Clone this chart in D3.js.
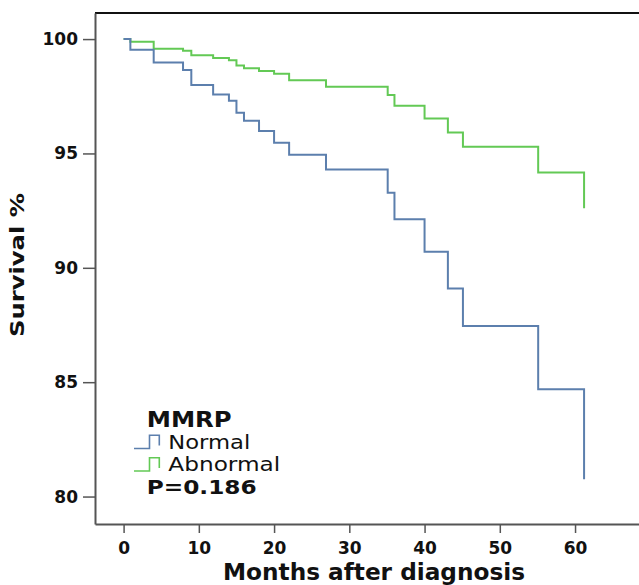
<!DOCTYPE html>
<html>
  <head>
    <meta charset="UTF-8" />
    <style>
      body {
        margin: 0;
        background: #fff;
      }
      svg {
        display: block;
        font-family: "DejaVu Sans", Verdana, sans-serif;
      }
    </style>
  </head>
  <body>
    <svg></svg>
    <script src="https://d3js.org/d3.v7.min.js"></script>

    <script>
      // Kaplan-Meier steps (months, survival %)
      const normalMonths = [0, 0.9, 4, 7.9, 9, 11.9, 14, 15, 16, 18, 20, 22, 26.9, 35.1, 36, 40, 43.1, 45.1, 55.1, 61.2];
      const normalSurvival = [100, 99.53, 98.98, 98.65, 97.99, 97.58, 97.3, 96.78, 96.43, 95.98, 95.47, 94.94, 94.3, 93.28, 92.12, 90.7, 89.1, 87.46, 84.69, 80.76];

      const abnormalMonths = [0, 0.9, 4, 7.9, 9, 11.9, 14, 15, 16, 18, 20, 22, 26.9, 35.1, 36, 40, 43.1, 45.1, 55.1, 61.2];
      const abnormalSurvival = [100, 99.88, 99.58, 99.49, 99.29, 99.17, 99.07, 98.85, 98.72, 98.6, 98.48, 98.2, 97.92, 97.55, 97.08, 96.53, 95.92, 95.29, 94.17, 92.6];

      const xTicks = [0, 10, 20, 30, 40, 50, 60];
      const yTicks = [80, 85, 90, 95, 100];
      const groups = ["Normal", "Abnormal"];
      const legendTitle = "MMRP";
      const pValue = "P=0.186";

      let width = 639,
        height = 585;

      let svg = d3.select("svg").attr("width", width).attr("height", height);

      const colors = { Normal: "#5c7fad", Abnormal: "#63c955" };

      const x = d3.scaleLinear().domain([-3.8, 68.5]).range([95, 639]);
      const y = d3.scaleLinear().domain([78.8, 101.14]).range([524, 13]);

      // top frame line
      svg
        .append("line")
        .attr("x1", x.range()[0])
        .attr("x2", x.range()[1])
        .attr("y1", y.range()[1])
        .attr("y2", y.range()[1])
        .attr("stroke", "#111")
        .attr("stroke-width", 2);

      // y axis
      let yAxis = svg
        .append("g")
        .attr("transform", "translate(" + x.range()[0] + ",0)")
        .call(d3.axisLeft(y).tickValues(yTicks).tickSize(12).tickSizeOuter(0).tickPadding(5));
      yAxis.select(".domain").attr("stroke", "#555").attr("stroke-width", 2);
      yAxis.selectAll(".tick line").attr("stroke", "#555").attr("stroke-width", 1.5);
      yAxis
        .selectAll("text")
        .attr("fill", "#111")
        .style("font-family", "DejaVu Sans")
        .style("font-weight", "bold")
        .style("font-size", "17px");

      // x axis
      let xAxis = svg
        .append("g")
        .attr("transform", "translate(0," + y.range()[0] + ")")
        .call(d3.axisBottom(x).tickValues(xTicks).tickSize(9).tickSizeOuter(0).tickPadding(9));
      xAxis.select(".domain").attr("stroke", "#555").attr("stroke-width", 2);
      xAxis.selectAll(".tick line").attr("stroke", "#555").attr("stroke-width", 1.5);
      xAxis
        .selectAll("text")
        .attr("fill", "#111")
        .style("font-family", "DejaVu Sans")
        .style("font-weight", "bold")
        .style("font-size", "17px");

      // survival curves
      const series = [
        { name: "Normal", months: normalMonths, surv: normalSurvival },
        { name: "Abnormal", months: abnormalMonths, surv: abnormalSurvival },
      ];

      const line = d3
        .line()
        .x((d) => x(d[0]))
        .y((d) => y(d[1]))
        .curve(d3.curveStepAfter);

      // draw abnormal first so the normal line sits on top
      series
        .slice()
        .reverse()
        .forEach((s) => {
          svg
            .append("path")
            .datum(d3.zip(s.months, s.surv))
            .attr("d", line)
            .attr("fill", "none")
            .attr("stroke", colors[s.name])
            .attr("stroke-width", 2);
        });

      // axis titles
      svg
        .append("text")
        .attr("x", 374)
        .attr("y", 580)
        .attr("text-anchor", "middle")
        .attr("textLength", 302)
        .attr("lengthAdjust", "spacingAndGlyphs")
        .style("font-weight", "bold")
        .style("font-size", "23px")
        .attr("fill", "#111")
        .text("Months after diagnosis");

      svg
        .append("text")
        .attr("transform", "translate(24,265) rotate(-90)")
        .attr("text-anchor", "middle")
        .attr("textLength", 144)
        .attr("lengthAdjust", "spacingAndGlyphs")
        .style("font-weight", "bold")
        .style("font-size", "20px")
        .attr("fill", "#111")
        .text("Survival %");

      // legend
      let legend = svg.append("g").attr("id", "legend");

      legend
        .append("text")
        .attr("x", 146.7)
        .attr("y", 427)
        .attr("textLength", 85)
        .attr("lengthAdjust", "spacingAndGlyphs")
        .style("font-weight", "bold")
        .style("font-size", "21px")
        .attr("fill", "#111")
        .text(legendTitle);

      const labelLen = { Normal: 82, Abnormal: 112 };

      groups.forEach((g, i) => {
        let base = 448.5 + i * 22.5;
        legend
          .append("path")
          .attr("d", "M134," + base + "H149.5V" + (base - 13.3) + "H159.3V" + (base - 3))
          .attr("fill", "none")
          .attr("stroke", colors[g])
          .attr("stroke-width", 1.6);
        legend
          .append("text")
          .attr("x", 168.3)
          .attr("y", base)
          .attr("textLength", labelLen[g])
          .attr("lengthAdjust", "spacingAndGlyphs")
          .style("font-size", "19.5px")
          .attr("fill", "#111")
          .text(g);
      });

      legend
        .append("text")
        .attr("x", 146.7)
        .attr("y", 494)
        .attr("textLength", 110)
        .attr("lengthAdjust", "spacingAndGlyphs")
        .style("font-weight", "bold")
        .style("font-size", "19px")
        .attr("fill", "#111")
        .text(pValue);
    </script>
  </body>
</html>
